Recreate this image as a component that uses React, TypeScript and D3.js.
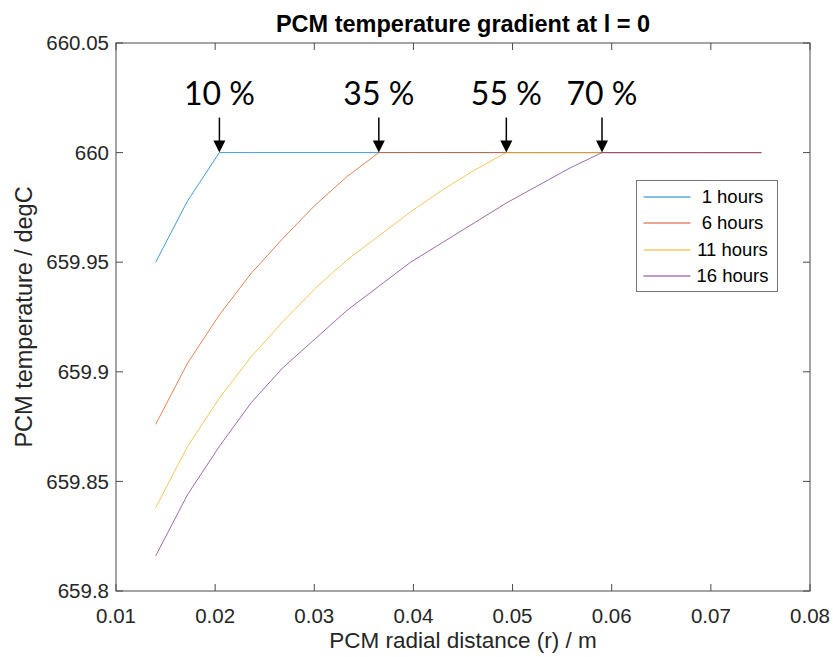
import React from "react";
import { scaleLinear, line } from "d3";

// radial positions (m) of the PCM nodes
const radius = [
  0.014, 0.01722, 0.02043, 0.02365, 0.02686, 0.03008, 0.03329, 0.03651, 0.03972, 0.04294,
  0.04616, 0.04937, 0.05259, 0.0558, 0.05902, 0.06223, 0.06545, 0.06866, 0.07188, 0.0751,
];

// PCM temperature (degC) at each radius
const temp1h = [
  659.95, 659.978, 660, 660, 660, 660, 660, 660, 660, 660,
  660, 660, 660, 660, 660, 660, 660, 660, 660, 660,
];
const temp6h = [
  659.876, 659.904, 659.926, 659.945, 659.961, 659.976, 659.989, 660, 660, 660,
  660, 660, 660, 660, 660, 660, 660, 660, 660, 660,
];
const temp11h = [
  659.838, 659.866, 659.888, 659.907, 659.923, 659.938, 659.951, 659.962, 659.973, 659.983,
  659.992, 660, 660, 660, 660, 660, 660, 660, 660, 660,
];
const temp16h = [
  659.816, 659.844, 659.866, 659.886, 659.902, 659.915, 659.928, 659.939, 659.95, 659.959,
  659.968, 659.977, 659.985, 659.993, 660, 660, 660, 660, 660, 660,
];

const seriesNames = ["1 hours", "6 hours", "11 hours", "16 hours"];
const seriesColors = ["#0072BD", "#D95319", "#EDB120", "#7E2F8E"];
// lighter versions used for the legend swatches
const legendColors = ["#5ea9dd", "#e5896a", "#f3ca6a", "#a878b4"];

// melt front markers: label + node index where each curve reaches 660
const meltLabels = ["10 %", "35 %", "55 %", "70 %"];
const meltIndex = [2, 7, 11, 14];
const meltTemp = 660;

const xTicks = [0.01, 0.02, 0.03, 0.04, 0.05, 0.06, 0.07, 0.08];
const xTickLabels = ["0.01", "0.02", "0.03", "0.04", "0.05", "0.06", "0.07", "0.08"];
const yTicks = [659.8, 659.85, 659.9, 659.95, 660, 660.05];
const yTickLabels = ["659.8", "659.85", "659.9", "659.95", "660", "660.05"];

const W = 833;
const H = 657;
const m = { left: 116, right: 23, top: 43, bottom: 66 };
const axisColor = "#4a4a4a";
const font = "'Liberation Sans', Arial, sans-serif";

export default function App() {
  const series = [temp1h, temp6h, temp11h, temp16h];
  const x = scaleLinear().domain([0.01, 0.08]).range([m.left, W - m.right]);
  const y = scaleLinear().domain([659.8, 660.05]).range([H - m.bottom, m.top]);
  const [x0, x1] = x.range();
  const [y0, y1] = y.range();

  const path = line<number>()
    .x((_, i) => x(radius[i]))
    .y((d) => y(d));

  const legend = { x: 636.5, y: 180.5, w: 141, h: 111 };

  return (
    <svg
      width={W}
      height={H}
      style={{ position: "absolute", left: 0, top: 0, background: "#fff" }}
      fontFamily={font}
    >
      <rect x={0} y={0} width={W} height={H} fill="#fff" />

      {/* series */}
      {series.map((s, k) => (
        <path
          key={k}
          d={path(s) || ""}
          fill="none"
          stroke={seriesColors[k]}
          strokeOpacity={0.72}
          strokeWidth={1}
        />
      ))}

      {/* box + ticks */}
      <rect x={x0} y={y1} width={x1 - x0} height={y0 - y1} fill="none" stroke={axisColor} strokeWidth={1} />
      {xTicks.map((t, i) => (
        <g key={"x" + i}>
          <line x1={x(t)} x2={x(t)} y1={y0} y2={y0 - 7} stroke={axisColor} />
          <line x1={x(t)} x2={x(t)} y1={y1} y2={y1 + 7} stroke={axisColor} />
          <text x={x(t)} y={y0 + 32} textAnchor="middle" fontSize={20.5} fill="#262626">
            {xTickLabels[i]}
          </text>
        </g>
      ))}
      {yTicks.map((t, i) => (
        <g key={"y" + i}>
          <line x1={x0} x2={x0 + 7} y1={y(t)} y2={y(t)} stroke={axisColor} />
          <line x1={x1} x2={x1 - 7} y1={y(t)} y2={y(t)} stroke={axisColor} />
          <text x={x0 - 7} y={y(t)} dy="0.35em" textAnchor="end" fontSize={20.5} fill="#262626">
            {yTickLabels[i]}
          </text>
        </g>
      ))}

      {/* melt front annotations */}
      {meltLabels.map((lab, i) => {
        const ax = x(radius[meltIndex[i]]);
        const ay = y(meltTemp);
        return (
          <g key={"a" + i}>
            <line x1={ax} x2={ax} y1={ay - 35} y2={ay - 10} stroke="#000" strokeWidth={1.5} />
            <path d={`M${ax - 6},${ay - 12} L${ax + 6},${ay - 12} L${ax},${ay} Z`} fill="#000" />
            <text x={ax} y={ay - 48} textAnchor="middle" fontFamily="Lato, 'Open Sans', sans-serif" fontSize={32} fill="#000">
              {lab}
            </text>
          </g>
        );
      })}

      {/* legend */}
      <rect x={legend.x} y={legend.y} width={legend.w} height={legend.h} fill="#fff" stroke="#777" strokeWidth={1} />
      {seriesNames.map((n, k) => {
        const ly = Math.round(legend.y + 16 + k * 26.5);
        return (
          <g key={"l" + k}>
            <line x1={legend.x + 7} x2={legend.x + 54} y1={ly} y2={ly} stroke={legendColors[k]} strokeWidth={1.5} />
            <text x={legend.x + 96} y={ly} dy="0.35em" textAnchor="middle" fontSize={18.5} fill="#000">
              {n}
            </text>
          </g>
        );
      })}

      {/* titles */}
      <text x={(x0 + x1) / 2} y={32} textAnchor="middle" fontWeight="bold" fontSize={23.5} fill="#000">
        PCM temperature gradient at l = 0
      </text>
      <text x={(x0 + x1) / 2} y={H - 9} textAnchor="middle" fontSize={22.5} fill="#262626">
        PCM radial distance (r) / m
      </text>
      <text
        transform={`translate(32, ${(y0 + y1) / 2}) rotate(-90)`}
        textAnchor="middle"
        fontSize={23.5}
        fill="#262626"
      >
        PCM temperature / degC
      </text>
    </svg>
  );
}
